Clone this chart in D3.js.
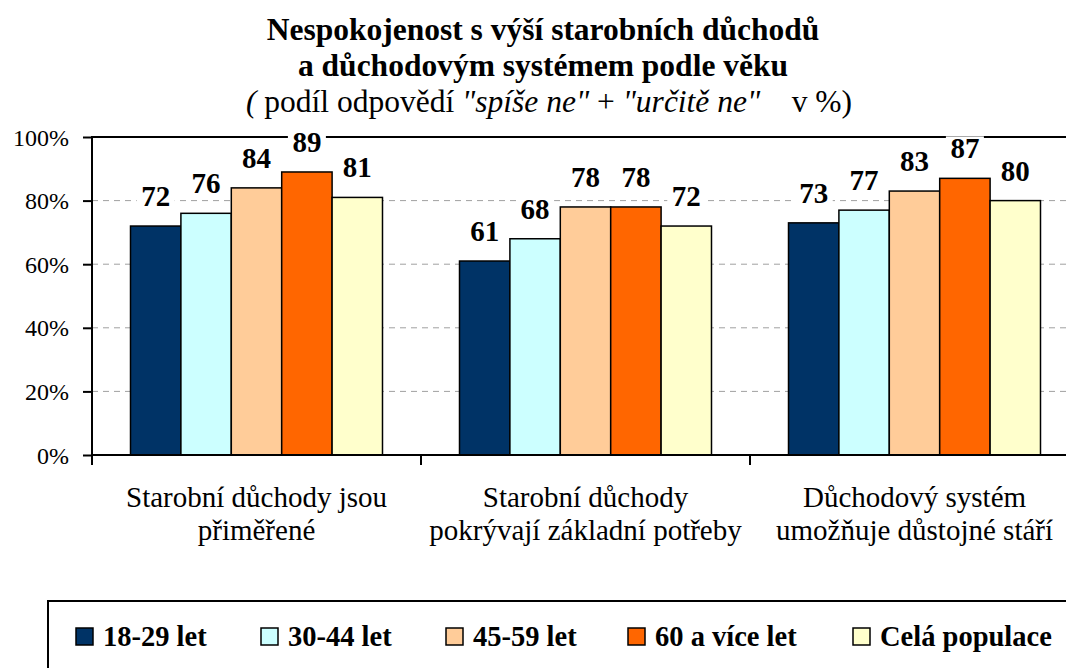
<!DOCTYPE html>
<html><head><meta charset="utf-8"><script src="https://cdn.jsdelivr.net/npm/d3@7"></script></head>
<body style="margin:0">
<script>
/* data */
const categories = [
    ["Starobní důchody jsou", "přiměřené"],
    ["Starobní důchody", "pokrývají základní potřeby"],
    ["Důchodový systém", "umožňuje důstojné stáří"]
];
const seriesNames = ["18-29 let", "30-44 let", "45-59 let", "60 a více let", "Celá populace"];
const seriesColors = ["#003366", "#CCFFFF", "#FFCC99", "#FF6600", "#FFFFCC"];
const values = [
    [72, 76, 84, 89, 81],
    [61, 68, 78, 78, 72],
    [73, 77, 83, 87, 80]
];
const yTicks = [0, 20, 40, 60, 80, 100];

const FONT = "Liberation Serif";

/* svg */
const svg_width = 1066;
const svg_height = 668;
const svg = d3.select("body").append("svg")
    .attr("width", svg_width)
    .attr("height", svg_height)
    .attr("font-family", FONT);

const plot = { left: 92, right: 1079, top: 137, bottom: 455 };

/* scales */
const xScale = d3.scaleBand().domain(d3.range(categories.length))
    .range([plot.left, plot.right]).paddingInner(0).paddingOuter(0);
const xInner = d3.scaleBand().domain(d3.range(seriesNames.length))
    .range([0, xScale.bandwidth()]).paddingInner(0).paddingOuter(0.764);
const yScale = d3.scaleLinear().domain([0, 100]).range([plot.bottom, plot.top]);

/* helper: every text gets the serif font explicitly */
function serif(sel) {
    return sel.attr("font-family", FONT).style("font-family", FONT);
}

/* title */
const title = svg.append("g").attr("class", "title");
serif(title.append("text")).attr("x", 543).attr("y", 40)
    .attr("text-anchor", "middle").attr("font-weight", "bold").attr("font-size", 31.5)
    .text("Nespokojenost s výší starobních důchodů");
serif(title.append("text")).attr("x", 543).attr("y", 76)
    .attr("text-anchor", "middle").attr("font-weight", "bold").attr("font-size", 31.5)
    .text("a důchodovým systémem podle věku");
const sub = serif(title.append("text")).attr("x", 549).attr("y", 112)
    .attr("text-anchor", "middle").attr("font-size", 31.5);
sub.append("tspan").attr("font-style", "italic").text("( ");
sub.append("tspan").text("podíl odpovědí ");
sub.append("tspan").attr("font-style", "italic").text("\"spíše ne\"");
sub.append("tspan").text(" + ");
sub.append("tspan").attr("font-style", "italic").text("\"určitě ne\"");
sub.append("tspan").text("\u00a0\u00a0\u00a0 v %)");

/* grid */
svg.append("g").attr("class", "grid")
    .selectAll("line").data(yTicks.filter(d => d > 0 && d < 100)).join("line")
    .attr("x1", plot.left).attr("x2", plot.right)
    .attr("y1", d => yScale(d)).attr("y2", d => yScale(d))
    .attr("stroke", "#a0a0a0").attr("stroke-width", 1).attr("stroke-dasharray", "6,5");
svg.append("line")
    .attr("x1", plot.left).attr("x2", plot.right)
    .attr("y1", yScale(100)).attr("y2", yScale(100))
    .attr("stroke", "#000").attr("stroke-width", 2);

/* bars */
const groups = svg.append("g").attr("class", "bars")
    .selectAll("g").data(values).join("g")
    .attr("transform", (d, i) => `translate(${xScale(i)},0)`);
groups.selectAll("rect").data(d => d).join("rect")
    .attr("x", (d, j) => xInner(j))
    .attr("y", d => yScale(d))
    .attr("width", xInner.bandwidth())
    .attr("height", d => yScale(0) - yScale(d))
    .attr("fill", (d, j) => seriesColors[j])
    .attr("stroke", "#000").attr("stroke-width", 1.5);

/* value labels with white background */
const labels = groups.selectAll("g.lab").data(d => d).join("g").attr("class", "lab")
    .attr("transform", (d, j) => `translate(${xInner(j) + xInner.bandwidth() / 2},${yScale(d) - 20})`);
labels.append("rect")
    .attr("x", -19).attr("y", -22).attr("width", 38).attr("height", 25)
    .attr("fill", "#fff");
serif(labels.append("text"))
    .attr("text-anchor", "middle").attr("font-weight", "bold").attr("font-size", 29)
    .text(d => d);

/* y axis */
const yAxis = d3.axisLeft(yScale).tickValues(yTicks).tickFormat(d => d + "%")
    .tickSize(9).tickSizeOuter(0);
const yAxisDraw = svg.append("g").attr("class", "y axis")
    .attr("transform", `translate(${plot.left},0)`).call(yAxis)
    .attr("font-family", FONT).attr("font-size", 24);
yAxisDraw.select(".domain").remove();
yAxisDraw.selectAll(".tick line").attr("stroke", "#000").attr("stroke-width", 2);
serif(yAxisDraw.selectAll(".tick text"))
    .attr("fill", "#000")
    .attr("x", -23).attr("dy", "0.34em");
svg.append("line").attr("x1", plot.left).attr("x2", plot.left)
    .attr("y1", plot.top - 1).attr("y2", plot.bottom + 10)
    .attr("stroke", "#000").attr("stroke-width", 2);

/* x axis */
svg.append("line").attr("x1", plot.left).attr("x2", plot.right)
    .attr("y1", plot.bottom).attr("y2", plot.bottom)
    .attr("stroke", "#000").attr("stroke-width", 2);
svg.append("g").attr("class", "x ticks")
    .selectAll("line").data(d3.range(categories.length + 1)).join("line")
    .attr("x1", i => plot.left + i * xScale.bandwidth())
    .attr("x2", i => plot.left + i * xScale.bandwidth())
    .attr("y1", plot.bottom).attr("y2", plot.bottom + 10)
    .attr("stroke", "#000").attr("stroke-width", 2);
const catLabels = serif(svg.append("g").attr("class", "x labels")
    .selectAll("text").data(categories).join("text"))
    .attr("text-anchor", "middle").attr("font-size", 29)
    .attr("x", (d, i) => xScale(i) + xScale.bandwidth() / 2)
    .attr("y", 507);
catLabels.selectAll("tspan").data(d => d).join("tspan")
    .attr("x", function () { return d3.select(this.parentNode).attr("x"); })
    .attr("dy", (d, k) => k === 0 ? 0 : 33)
    .text(d => d);

/* legend */
svg.append("rect").attr("x", 48).attr("y", 601).attr("width", 1100).attr("height", 120)
    .attr("fill", "#fff").attr("stroke", "#000").attr("stroke-width", 2);
const legendX = [76, 261, 446, 628, 853];
const legend = svg.append("g").attr("class", "legend")
    .selectAll("g").data(seriesNames).join("g")
    .attr("transform", (d, i) => `translate(${legendX[i]},646)`);
legend.append("rect")
    .attr("x", 0).attr("y", -18).attr("width", 17).attr("height", 17)
    .attr("fill", (d, i) => seriesColors[i]).attr("stroke", "#000").attr("stroke-width", 1.5);
serif(legend.append("text"))
    .attr("x", 27).attr("font-weight", "bold").attr("font-size", 28.5)
    .text(d => d);
</script>
</body></html>
